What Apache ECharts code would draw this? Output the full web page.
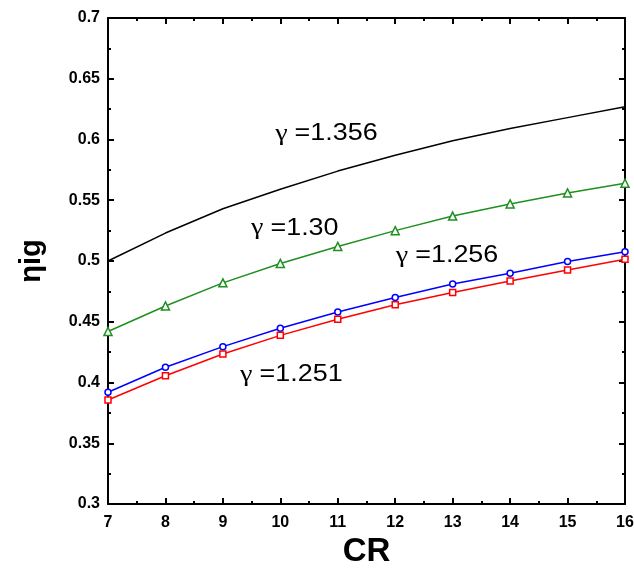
<!DOCTYPE html>
<html><head><meta charset="utf-8">
<script src="https://cdn.jsdelivr.net/npm/echarts@6/dist/echarts.min.js"></script>
<style>html,body{margin:0;padding:0;background:#fff}#c{width:634px;height:569px}</style>
</head><body><div id="c"></div>
<script>
const cr = [7, 8, 9, 10, 11, 12, 13, 14, 15, 16];
const eta1356 = [0.500, 0.523, 0.543, 0.559, 0.574, 0.587, 0.599, 0.609, 0.618, 0.627];
const eta130  = [0.442, 0.463, 0.482, 0.498, 0.512, 0.525, 0.537, 0.547, 0.556, 0.564];
const eta1256 = [0.392, 0.4125, 0.4295, 0.4446, 0.458, 0.470, 0.481, 0.490, 0.4995, 0.5077];
const eta1251 = [0.3856, 0.4056, 0.4235, 0.4388, 0.452, 0.464, 0.474, 0.4835, 0.4926, 0.5014];
const yTicks = ['0.3','0.35','0.4','0.45','0.5','0.55','0.6','0.65','0.7'];
const annotations = [
  {label: '1.356', x: 9.91, y: 0.605},
  {label: '1.30',  x: 9.49, y: 0.527},
  {label: '1.256', x: 12.01, y: 0.504},
  {label: '1.251', x: 9.30, y: 0.4066}
];

const chart = echarts.init(document.getElementById('c'), null, {renderer: 'canvas'});
const tickFont = {fontFamily: 'Liberation Sans, Arial, sans-serif', fontWeight: 'bold', fontSize: 16, color: '#000'};
const axisLine = {show: true, onZero: false, lineStyle: {color: '#000', width: 2}};
const xCommon = {type: 'value', min: 7, max: 16, interval: 1, axisLine: axisLine,
  axisTick: {inside: true, length: 6, lineStyle: {color: '#000', width: 2}},
  minorTick: {show: true, splitNumber: 2, length: 3, lineStyle: {color: '#000', width: 2}},
  splitLine: {show: false}};
const yCommon = {type: 'value', min: 0.3, max: 0.7, interval: 0.05, axisLine: axisLine,
  axisTick: {inside: true, length: 6, lineStyle: {color: '#000', width: 2}},
  minorTick: {show: true, splitNumber: 2, length: 3, lineStyle: {color: '#000', width: 2}},
  splitLine: {show: false}};

function mk(name, vals, color, symbol, size) {
  return {name: name, type: 'line', data: cr.map((c, i) => [c, vals[i]]),
    xAxisIndex: 0, yAxisIndex: 0,
    lineStyle: {color: color, width: 1.5}, itemStyle: {color: '#fff', borderColor: color, borderWidth: 1.5},
    symbol: symbol, symbolSize: size, showSymbol: symbol !== 'none', animation: false, z: 3};
}

chart.setOption({
  animation: false,
  grid: {left: 108, right: 9, top: 18, bottom: 65, containLabel: false, outerBoundsMode: 'none'},
  xAxis: [
    Object.assign({}, xCommon, {position: 'bottom', name: 'CR', nameLocation: 'middle', nameGap: 30,
      nameTextStyle: {fontFamily: 'Liberation Sans, Arial, sans-serif', fontWeight: 'bold', fontSize: 33, color: '#000'},
      axisLabel: Object.assign({margin: 11}, tickFont)}),
    Object.assign({}, xCommon, {position: 'top', axisLabel: {show: false}})
  ],
  yAxis: [
    Object.assign({}, yCommon, {position: 'left', name: 'ηig', nameLocation: 'middle', nameGap: 62,
      nameTextStyle: {fontFamily: 'Liberation Sans, Arial, sans-serif', fontWeight: 'bold', fontSize: 29, color: '#000'},
      axisLabel: Object.assign({margin: 8, formatter: function (v) { const s = yTicks.find(t => Math.abs(parseFloat(t) - v) < 1e-6); return s || ''; }}, tickFont)}),
    Object.assign({}, yCommon, {position: 'right', axisLabel: {show: false}})
  ],
  series: [
    mk('γ=1.356', eta1356, '#000000', 'none', 0),
    mk('γ=1.30', eta130, '#1f8f1f', 'triangle', 8),
    mk('γ=1.256', eta1256, '#0000ff', 'circle', 6),
    mk('γ=1.251', eta1251, '#ff0000', 'rect', 6)
  ]
});

const g = annotations.map(a => {
  const p = chart.convertToPixel({gridIndex: 0}, [a.x, a.y]);
  return {type: 'text', x: p[0], y: p[1], scaleX: 1.17, z: 10,
    style: {text: '{g|γ }{n|=' + a.label + '}', verticalAlign: 'middle', align: 'left',
      rich: {g: {fontFamily: 'Liberation Serif, serif', fontSize: 24, fill: '#000', verticalAlign: 'middle'},
             n: {fontFamily: 'Liberation Sans, Arial, sans-serif', fontSize: 23, fill: '#000', verticalAlign: 'middle'}}}};
});
chart.setOption({graphic: g});
</script></body></html>
